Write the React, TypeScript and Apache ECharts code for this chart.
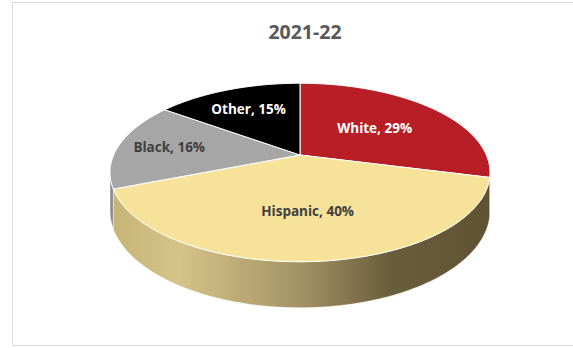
import React, { useEffect, useRef } from "react";
import * as echarts from "echarts";

const title = "2021-22";
const categories = ["White", "Hispanic", "Black", "Other"];
const values = [29, 40, 16, 15];

// styles (not data)
const topColors = ["#B81E25", "#F7E299", "#A6A6A6", "#000000"];
const labelColors = ["#FFFFFF", "#404040", "#404040", "#FFFFFF"];
const labelRadius = [0.54, 0.58, 0.72, 0.68];

export default function App() {
  const ref = useRef<HTMLDivElement>(null);
  useEffect(() => {
    const chart = echarts.init(ref.current!, null, { renderer: "svg" });
    const total = values.reduce((a, b) => a + b, 0);
    const starts: number[] = [];
    let acc = 0;
    values.forEach((v) => {
      starts.push(acc);
      acc += v;
    });
    const CX = 300, CY = 155, A = 186.3, B = 85.8, K = 0.196, T = 37;
    const proj = (r: number, deg: number, h: number) => {
      const p = (deg * Math.PI) / 180;
      const X = r * Math.sin(p);
      const Z = -r * Math.cos(p);
      const d = 1 - K * Z;
      return [CX + (A * X) / d, CY + (B * Z + h * T) / d];
    };
    const arc = (a0: number, a1: number, h: number) => {
      const n = Math.max(2, Math.ceil(Math.abs(a1 - a0)));
      const pts: number[][] = [];
      for (let i = 0; i <= n; i++) pts.push(proj(1, a0 + ((a1 - a0) * i) / n, h));
      return pts;
    };
    const VIS0 = (Math.acos(-K) * 180) / Math.PI;
    const VIS1 = 360 - VIS0;
    const wallFills: any[] = [
      "#7A1418",
      new echarts.graphic.LinearGradient(
        110, 0, 490, 0,
        [
          { offset: 0, color: "#C6B376" },
          { offset: 0.18, color: "#D6C38A" },
          { offset: 0.5, color: "#A39263" },
          { offset: 0.74, color: "#6A5D3C" },
          { offset: 1, color: "#5F5333" },
        ],
        true
      ),
      "#8A8A8A",
      "#111111",
    ];

    chart.setOption({
      animation: false,
      backgroundColor: "#FFFFFF",
      title: {
        text: title,
        left: 300,
        top: 16,
        textAlign: "center",
        textStyle: {
          fontFamily: "Open Sans",
          fontWeight: "bold",
          fontSize: 19.5,
          color: "#595959",
        },
      },
      graphic: [
        {
          type: "rect",
          shape: { x: 12.5, y: 2.5, width: 600, height: 343 },
          style: { fill: "none", stroke: "#D9D9D9", lineWidth: 1 },
          silent: true,
        },
      ],
      series: [
        {
          type: "custom",
          coordinateSystem: "none",
          silent: true,
          data: values.map((v, i) => ({ name: categories[i], value: [v] })),
          renderItem: (params: any, api: any) => {
            const i = params.dataIndex;
            const v = api.value(0) as number;
            const a0 = (starts[i] / total) * 360;
            const a1 = a0 + (v / total) * 360;
            const children: any[] = [];
            const w0 = Math.max(a0, VIS0);
            const w1 = Math.min(a1, VIS1);
            if (w1 > w0) {
              const top = arc(w0, w1, 0);
              const bot = arc(w0, w1, 1).reverse();
              children.push({
                type: "polygon",
                z2: 1,
                shape: { points: top.concat(bot) },
                style: { fill: wallFills[i], stroke: "#FFFFFF", lineWidth: 0.5 },
              });
            }
            children.push({
              type: "polygon",
              z2: 2,
              shape: { points: [[CX, CY]].concat(arc(a0, a1, 0)) },
              style: { fill: topColors[i], stroke: "#FFFFFF", lineWidth: 1 },
            });
            const mid = (a0 + a1) / 2;
            const [lx, ly] = proj(labelRadius[i], mid, 0);
            children.push({
              type: "text",
              z2: 3,
              style: {
                text: `${categories[i]}, ${Math.round((v / total) * 100)}%`,
                x: lx,
                y: ly,
                fill: labelColors[i],
                fontFamily: "Open Sans",
                fontWeight: "bold",
                fontSize: 13.5,
                align: "center",
                verticalAlign: "middle",
              },
            });
            return { type: "group", children };
          },
        },
      ],
    });
    return () => chart.dispose();
  }, []);
  return (
    <div
      ref={ref}
      style={{ position: "fixed", left: 0, top: 0, width: 573, height: 348, background: "#fff" }}
    />
  );
}
